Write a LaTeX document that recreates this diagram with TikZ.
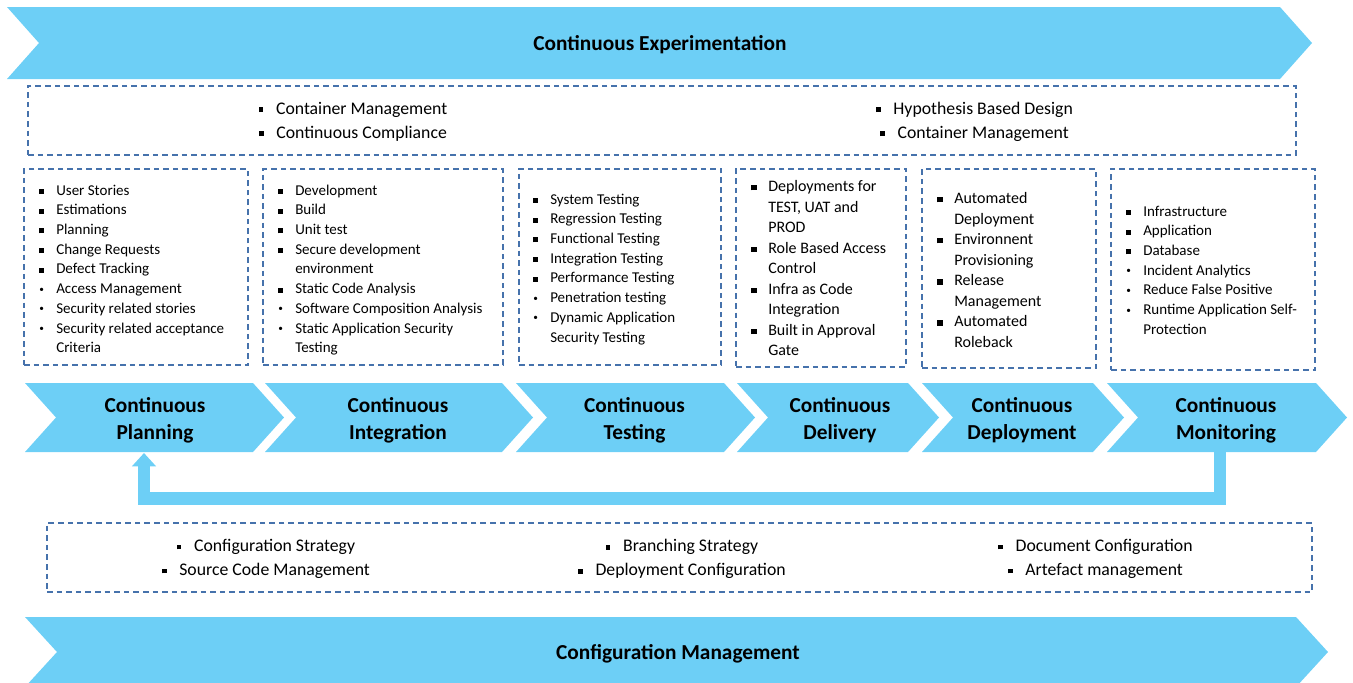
\documentclass[tikz,border=0pt]{standalone}
\usepackage{fontspec}
\usepackage{graphicx}
\setmainfont{Carlito}
\usetikzlibrary{arrows.meta,fit}
\definecolor{chevblue}{RGB}{109,207,246}
\definecolor{dashblue}{RGB}{70,114,172}
% list bullets
\newcommand\sqb{\rule[0.07em]{0.33em}{0.33em}}
\newcommand\rdb{\raisebox{0.1em}{\scalebox{0.62}{\textbullet}}}
% bullet + gap for the centred groups
\newcommand\gsq{\rule[0.12em]{0.26em}{0.26em}\hspace{9.5pt}}
% chevron: left x, right x, top y, bottom y, tip depth
\newcommand\chevron[5]{%
  \fill[chev] (#1,#3) -- (#2,#3) -- ({#2+#5},{(#3+#4)/2}) -- (#2,#4)
    -- (#1,#4) -- ({#1+#5},{(#3+#4)/2}) -- cycle;}

\begin{document}
\begin{tikzpicture}[x=0.75pt,y=-0.75pt,
  dbox/.style={draw=dashblue, line width=1pt, dash pattern=on 4.2pt off 3pt, inner sep=0pt},
  chev/.style={fill=chevblue},
  ttl/.style={font=\fontsize{16}{20.25}\selectfont\bfseries, align=center, inner sep=0pt},
  lst/.style={font=\fontsize{11.25}{14.8}\selectfont, anchor=base west, inner sep=0pt},
  lstbig/.style={font=\fontsize{12}{15.4}\selectfont, anchor=base west, inner sep=0pt},
  grp/.style={font=\fontsize{13.3}{18}\selectfont, align=center, inner sep=0pt},
  fb/.style={draw=chevblue, line width=9.5pt, line join=miter,
    -{Triangle[width=17.5pt,length=10pt]}}
]
\useasboundingbox (0,0) rectangle (1353,682);
\clip (0,0) rectangle (1353,682);

% ---- top banner ----
\chevron{7}{1280}{7}{79}{32}
\node[ttl] (exp) at (660,45) {Continuous Experimentation};

% ---- experimentation practices ----
\node[dbox, fit={(28,86) (1296,155)}] (topbox) {};
\node[grp] (t1) at (353,121.5) {\gsq Container Management\\\gsq Continuous Compliance};
\node[grp] (t2) at (974.5,121.5) {\gsq Hypothesis Based Design\\\gsq Container Management};

% ---- stage boxes ----
\node[dbox, fit={(24,169) (248,365)}] (b1) {};
\node[dbox, fit={(263,169) (503,365)}] (b2) {};
\node[dbox, fit={(519,169) (721,365)}] (b3) {};
\node[dbox, fit={(736,169) (906,367)}] (b4) {};
\node[dbox, fit={(922,169) (1096,368)}] (b5) {};
\node[dbox, fit={(1111,169) (1315,370)}] (b6) {};

\node[lst] (l1) at (39,195) {\begin{tabular}[t]{@{}p{12.75pt}@{}l@{}}
\sqb & User Stories\\
\sqb & Estimations\\
\sqb & Planning\\
\sqb & Change Requests\\
\sqb & Defect Tracking\\
\rdb & Access Management\\
\rdb & Security related stories\\
\rdb & Security related acceptance\\
     & Criteria
\end{tabular}};

\node[lst] (l2) at (278,195) {\begin{tabular}[t]{@{}p{12.75pt}@{}l@{}}
\sqb & Development\\
\sqb & Build\\
\sqb & Unit test\\
\sqb & Secure development\\
     & environment\\
\sqb & Static Code Analysis\\
\rdb & Software Composition Analysis\\
\rdb & Static Application Security\\
     & Testing
\end{tabular}};

\node[lst] (l3) at (533,204) {\begin{tabular}[t]{@{}p{12.75pt}@{}l@{}}
\sqb & System Testing\\
\sqb & Regression Testing\\
\sqb & Functional Testing\\
\sqb & Integration Testing\\
\sqb & Performance Testing\\
\rdb & Penetration testing\\
\rdb & Dynamic Application\\
     & Security Testing
\end{tabular}};

\node[lstbig] (l4) at (751,191.5) {\begin{tabular}[t]{@{}p{12.75pt}@{}l@{}}
\sqb & Deployments for\\
     & TEST, UAT and\\
     & PROD\\
\sqb & Role Based Access\\
     & Control\\
\sqb & Infra as Code\\
     & Integration\\
\sqb & Built in Approval\\
     & Gate
\end{tabular}};

\node[lstbig] (l5) at (937,203.5) {\begin{tabular}[t]{@{}p{12.75pt}@{}l@{}}
\sqb & Automated\\
     & Deployment\\
\sqb & Environnent\\
     & Provisioning\\
\sqb & Release\\
     & Management\\
\sqb & Automated\\
     & Roleback
\end{tabular}};

\node[lst] (l6) at (1126,216) {\begin{tabular}[t]{@{}p{12.75pt}@{}l@{}}
\sqb & Infrastructure\\
\sqb & Application\\
\sqb & Database\\
\rdb & Incident Analytics\\
\rdb & Reduce False Positive\\
\rdb & Runtime Application Self-\\
     & Protection
\end{tabular}};

% ---- pipeline chevrons ----
\chevron{25}{253}{383}{452}{31}
\chevron{265}{502}{383}{452}{31}
\chevron{516}{724}{383}{452}{31}
\chevron{737}{908}{383}{452}{31}
\chevron{922}{1093}{383}{452}{31}
\chevron{1107}{1316}{383}{452}{31}

\node[ttl] (c1) at (155,420.5) {Continuous\\Planning};
\node[ttl] (c2) at (398,420.5) {Continuous\\Integration};
\node[ttl] (c3) at (634.5,420.5) {Continuous\\Testing};
\node[ttl] (c4) at (840,420.5) {Continuous\\Delivery};
\node[ttl] (c5) at (1022,420.5) {Continuous\\Deployment};
\node[ttl] (c6) at (1226,420.5) {Continuous\\Monitoring};

% ---- feedback loop: monitoring back to planning ----
\coordinate (monBottom) at (1220,450);
\coordinate (planBottom) at (144,453);
\draw[fb] (monBottom) -- (1220,498.5) -| (planBottom);

% ---- configuration practices ----
\node[dbox, fit={(47,523) (1312,592)}] (botbox) {};
\node[grp] (g1) at (266,559) {\gsq Configuration Strategy\\\gsq Source Code Management};
\node[grp] (g2) at (682,559) {\gsq Branching Strategy\\\gsq Deployment Configuration};
\node[grp] (g3) at (1095.5,559) {\gsq Document Configuration\\\gsq Artefact management};

% ---- bottom banner ----
\chevron{25}{1296}{617}{687}{32}
\node[ttl] (cfg) at (678,654) {Configuration Management};
\end{tikzpicture}
\end{document}
